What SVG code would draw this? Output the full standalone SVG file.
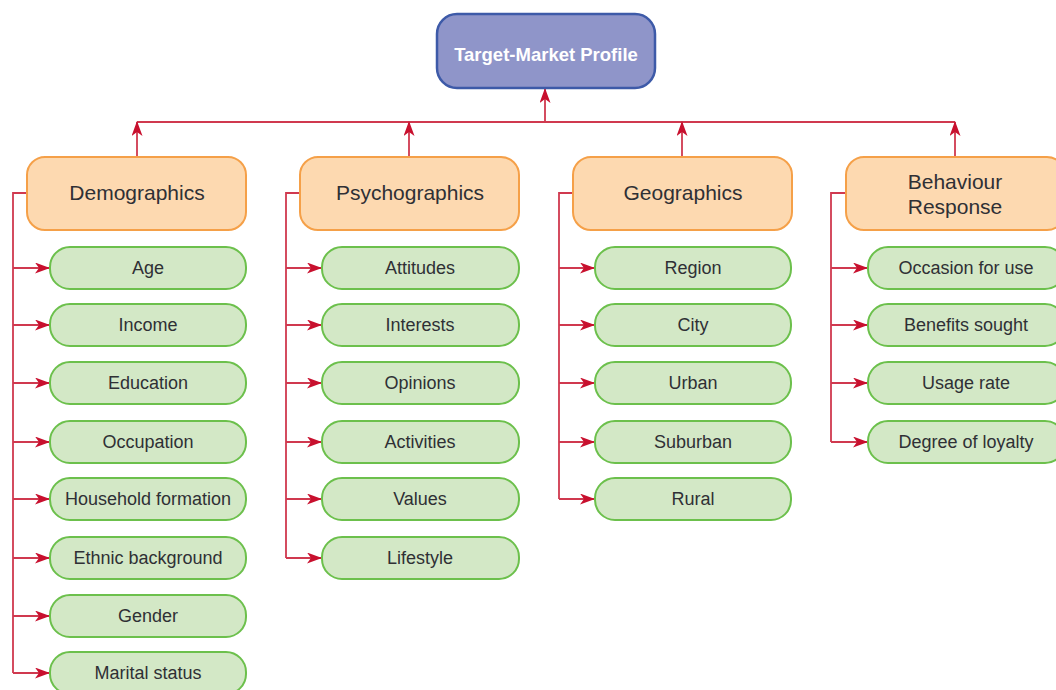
<svg xmlns="http://www.w3.org/2000/svg" width="1056" height="690" viewBox="0 0 1056 690">
<defs>
<marker id="ah" viewBox="0 0 15 11" refX="14" refY="5.5" markerWidth="15" markerHeight="11" markerUnits="userSpaceOnUse" orient="auto">
<path d="M0,0 L15,5.5 L0,11 L4,5.5 Z" fill="#c8102e"/>
</marker>
<style>
.c{fill:none;stroke:#d0394f;stroke-width:1.8}
.a{marker-end:url(#ah)}
.top{fill:#8f95c9;stroke:#3d5aa8;stroke-width:2.5}
.cat{fill:#fdd9b0;stroke:#f5a048;stroke-width:2}
.ch{fill:#d3e8c6;stroke:#6cc04c;stroke-width:2}
text{font-family:"Liberation Sans",Arial,sans-serif;text-anchor:middle;dominant-baseline:central;fill:#2f3035}
.tt{fill:#fff;font-weight:bold;font-size:18.5px}
.ct{font-size:21px}
.lt{font-size:18px}
</style>
</defs>
<g id="connectors">
<path class="c a" d="M545,122 L545,89"/>
<path class="c" d="M137,122 L955,122"/>
<path class="c a" d="M137,157 L137,122"/>
<path class="c a" d="M409,157 L409,122"/>
<path class="c a" d="M682,157 L682,122"/>
<path class="c a" d="M955,157 L955,122"/>
<path class="c" d="M27,193 L13,193 L13,673"/>
<path class="c" d="M300,193 L286,193 L286,558"/>
<path class="c" d="M573,193 L559,193 L559,499"/>
<path class="c" d="M846,193 L831,193 L831,442"/>
<path class="c a" d="M13,268 L49,268"/><path class="c a" d="M13,325 L49,325"/><path class="c a" d="M13,383 L49,383"/><path class="c a" d="M13,442 L49,442"/><path class="c a" d="M13,499 L49,499"/><path class="c a" d="M13,558 L49,558"/><path class="c a" d="M13,616 L49,616"/><path class="c a" d="M13,673 L49,673"/>
<path class="c a" d="M286,268 L321,268"/><path class="c a" d="M286,325 L321,325"/><path class="c a" d="M286,383 L321,383"/><path class="c a" d="M286,442 L321,442"/><path class="c a" d="M286,499 L321,499"/><path class="c a" d="M286,558 L321,558"/>
<path class="c a" d="M559,268 L594,268"/><path class="c a" d="M559,325 L594,325"/><path class="c a" d="M559,383 L594,383"/><path class="c a" d="M559,442 L594,442"/><path class="c a" d="M559,499 L594,499"/>
<path class="c a" d="M831,268 L867,268"/><path class="c a" d="M831,325 L867,325"/><path class="c a" d="M831,383 L867,383"/><path class="c a" d="M831,442 L867,442"/>
</g>
<g id="target"><rect class="top" x="437" y="14" width="218" height="74" rx="20"/><text class="tt" x="546" y="54">Target-Market Profile</text></g>
<g id="demographics"><rect class="cat" x="27" y="157" width="219" height="73" rx="18"/><text class="ct" x="137" y="192">Demographics</text></g>
<g id="psychographics"><rect class="cat" x="300" y="157" width="219" height="73" rx="18"/><text class="ct" x="410" y="192">Psychographics</text></g>
<g id="geographics"><rect class="cat" x="573" y="157" width="219" height="73" rx="18"/><text class="ct" x="683" y="192">Geographics</text></g>
<g id="behaviour"><rect class="cat" x="846" y="157" width="219" height="73" rx="18"/><text class="ct" x="955" y="181">Behaviour</text><text class="ct" x="955" y="206">Response</text></g>
<g id="d-age"><rect class="ch" x="50" y="247" width="196" height="42" rx="20"/><text class="lt" x="148" y="268">Age</text></g>
<g id="d-income"><rect class="ch" x="50" y="304" width="196" height="42" rx="20"/><text class="lt" x="148" y="325">Income</text></g>
<g id="d-education"><rect class="ch" x="50" y="362" width="196" height="42" rx="20"/><text class="lt" x="148" y="383">Education</text></g>
<g id="d-occupation"><rect class="ch" x="50" y="421" width="196" height="42" rx="20"/><text class="lt" x="148" y="442">Occupation</text></g>
<g id="d-household"><rect class="ch" x="50" y="478" width="196" height="42" rx="20"/><text class="lt" x="148" y="499">Household formation</text></g>
<g id="d-ethnic"><rect class="ch" x="50" y="537" width="196" height="42" rx="20"/><text class="lt" x="148" y="558">Ethnic background</text></g>
<g id="d-gender"><rect class="ch" x="50" y="595" width="196" height="42" rx="20"/><text class="lt" x="148" y="616">Gender</text></g>
<g id="d-marital"><rect class="ch" x="50" y="652" width="196" height="42" rx="20"/><text class="lt" x="148" y="673">Marital status</text></g>
<g id="p-attitudes"><rect class="ch" x="322" y="247" width="197" height="42" rx="20"/><text class="lt" x="420" y="268">Attitudes</text></g>
<g id="p-interests"><rect class="ch" x="322" y="304" width="197" height="42" rx="20"/><text class="lt" x="420" y="325">Interests</text></g>
<g id="p-opinions"><rect class="ch" x="322" y="362" width="197" height="42" rx="20"/><text class="lt" x="420" y="383">Opinions</text></g>
<g id="p-activities"><rect class="ch" x="322" y="421" width="197" height="42" rx="20"/><text class="lt" x="420" y="442">Activities</text></g>
<g id="p-values"><rect class="ch" x="322" y="478" width="197" height="42" rx="20"/><text class="lt" x="420" y="499">Values</text></g>
<g id="p-lifestyle"><rect class="ch" x="322" y="537" width="197" height="42" rx="20"/><text class="lt" x="420" y="558">Lifestyle</text></g>
<g id="g-region"><rect class="ch" x="595" y="247" width="196" height="42" rx="20"/><text class="lt" x="693" y="268">Region</text></g>
<g id="g-city"><rect class="ch" x="595" y="304" width="196" height="42" rx="20"/><text class="lt" x="693" y="325">City</text></g>
<g id="g-urban"><rect class="ch" x="595" y="362" width="196" height="42" rx="20"/><text class="lt" x="693" y="383">Urban</text></g>
<g id="g-suburban"><rect class="ch" x="595" y="421" width="196" height="42" rx="20"/><text class="lt" x="693" y="442">Suburban</text></g>
<g id="g-rural"><rect class="ch" x="595" y="478" width="196" height="42" rx="20"/><text class="lt" x="693" y="499">Rural</text></g>
<g id="b-occasion"><rect class="ch" x="868" y="247" width="197" height="42" rx="20"/><text class="lt" x="966" y="268">Occasion for use</text></g>
<g id="b-benefits"><rect class="ch" x="868" y="304" width="197" height="42" rx="20"/><text class="lt" x="966" y="325">Benefits sought</text></g>
<g id="b-usage"><rect class="ch" x="868" y="362" width="197" height="42" rx="20"/><text class="lt" x="966" y="383">Usage rate</text></g>
<g id="b-loyalty"><rect class="ch" x="868" y="421" width="197" height="42" rx="20"/><text class="lt" x="966" y="442">Degree of loyalty</text></g>
</svg>
